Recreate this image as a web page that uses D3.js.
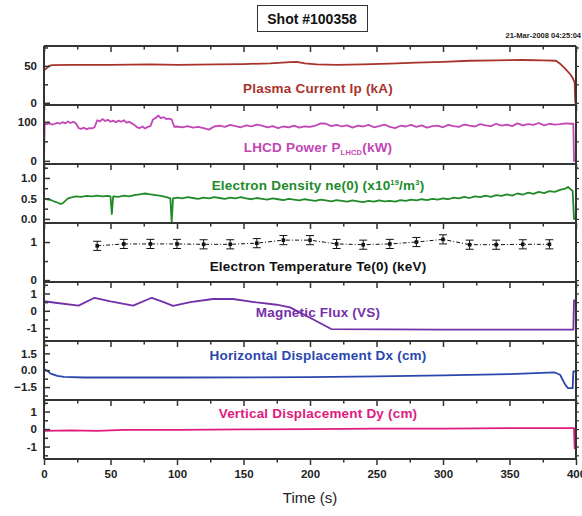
<!DOCTYPE html>
<html>
<head>
<meta charset="utf-8">
<script src="https://cdn.jsdelivr.net/npm/d3@7"></script>
<style>
	html, body { margin: 0; padding: 0; background: #fff; }
	svg { display: block; font-family: "Liberation Sans", Arial, sans-serif; }
</style>
</head>
<body>
<svg id="chart" width="582" height="516"></svg>
<script>
// ── Data ──────────────────────────────────────────────────────────────────────
const xTicks = [0, 50, 100, 150, 200, 250, 300, 350, 400];

const plasmaCurrent = [
	[0, 44], [2, 47], [4, 50], [6, 51], [20, 51.5], [50, 51.5], [80, 52], [100, 51.5],
	[130, 52], [150, 52.5], [170, 53.5], [185, 55], [190, 55.5], [196, 53.5], [205, 52],
	[220, 51.5], [240, 52], [260, 53], [280, 54.5], [300, 55.5], [320, 57], [340, 57.5],
	[360, 58], [375, 57.5], [385, 57], [388, 53], [392, 46], [396, 38], [398, 32],
	[399, 27], [399.5, 0], [400, 0]
];

const lhcdPower = [
	[0, 0], [0.5, 95], [2, 94], [4, 96], [6, 93], [8, 95], [10, 97], [12, 95], [14, 99],
	[16, 96], [18, 101], [20, 97], [22, 100], [24, 96], [26, 84], [28, 82], [30, 85],
	[32, 81], [34, 84], [36, 83], [38, 86], [40, 104], [42, 101], [44, 107], [46, 102],
	[48, 105], [50, 100], [52, 103], [54, 99], [56, 103], [58, 100], [60, 104], [62, 98],
	[64, 100], [66, 96], [68, 92], [70, 86], [72, 84], [74, 88], [76, 83], [78, 87],
	[80, 89], [82, 106], [84, 110], [86, 116], [88, 109], [90, 112], [92, 107], [94, 108],
	[96, 106], [98, 87], [100, 88], [104, 86], [108, 89], [112, 85], [116, 87], [120, 84],
	[124, 80], [128, 88], [132, 90], [136, 87], [140, 92], [144, 89], [148, 86], [152, 91],
	[156, 88], [160, 93], [164, 90], [168, 86], [172, 89], [176, 84], [180, 88], [184, 86],
	[188, 90], [192, 85], [196, 88], [200, 87], [204, 90], [208, 96], [212, 95], [216, 89],
	[220, 92], [224, 88], [228, 91], [232, 85], [236, 90], [240, 88], [244, 92], [248, 86],
	[252, 89], [256, 93], [260, 87], [264, 84], [268, 90], [272, 88], [276, 92], [280, 87],
	[284, 91], [288, 85], [292, 89], [296, 90], [300, 86], [304, 92], [308, 89], [312, 87],
	[316, 93], [320, 90], [324, 88], [328, 94], [332, 91], [336, 89], [340, 95], [344, 90],
	[348, 93], [352, 89], [356, 96], [360, 91], [364, 94], [368, 92], [372, 97], [376, 91],
	[380, 95], [384, 93], [388, 94], [392, 96], [396, 95], [398, 95], [398.5, 0], [400, 0]
];

const electronDensity = [
	[0, 0.50], [2, 0.48], [4, 0.47], [6, 0.45], [8, 0.42], [10, 0.40], [12, 0.37], [14, 0.38],
	[16, 0.44], [18, 0.50], [20, 0.52], [24, 0.55], [28, 0.54], [32, 0.56], [36, 0.55],
	[40, 0.57], [44, 0.55], [48, 0.56], [50, 0.55], [51, 0.12], [52, 0.55], [56, 0.54],
	[60, 0.57], [64, 0.55], [68, 0.58], [72, 0.60], [76, 0.62], [80, 0.60], [84, 0.58],
	[88, 0.56], [92, 0.53], [95, 0.50], [96, -0.08], [97, 0.50], [100, 0.52], [104, 0.50],
	[108, 0.53], [112, 0.51], [116, 0.49], [120, 0.52], [124, 0.50], [128, 0.53], [132, 0.51],
	[136, 0.49], [140, 0.52], [144, 0.50], [148, 0.53], [152, 0.50], [156, 0.48], [160, 0.51],
	[164, 0.49], [168, 0.47], [172, 0.50], [176, 0.48], [180, 0.46], [184, 0.49], [188, 0.47],
	[192, 0.45], [196, 0.48], [200, 0.46], [204, 0.44], [208, 0.47], [212, 0.45], [216, 0.43],
	[220, 0.46], [224, 0.44], [228, 0.42], [232, 0.45], [236, 0.43], [240, 0.41], [244, 0.44],
	[248, 0.42], [252, 0.45], [256, 0.43], [260, 0.44], [264, 0.42], [268, 0.46], [272, 0.44],
	[276, 0.47], [280, 0.45], [284, 0.48], [288, 0.46], [292, 0.49], [296, 0.47], [300, 0.50],
	[304, 0.48], [308, 0.52], [312, 0.50], [316, 0.54], [320, 0.51], [324, 0.55], [328, 0.53],
	[332, 0.57], [336, 0.54], [340, 0.58], [344, 0.56], [348, 0.60], [352, 0.57], [356, 0.62],
	[360, 0.59], [364, 0.64], [368, 0.61], [372, 0.66], [376, 0.63], [380, 0.68], [384, 0.66],
	[388, 0.71], [392, 0.74], [394, 0.78], [396, 0.72], [397.5, 0.68], [398.5, 0], [400, 0]
];

const teTimes  = [40, 60, 80, 100, 120, 140, 160, 180, 200, 220, 240, 260, 280, 300, 320, 340, 360, 380];
const teValues = [0.90, 0.95, 0.95, 0.95, 0.94, 0.94, 0.97, 1.05, 1.05, 0.95, 0.93, 0.95, 1.00, 1.07, 0.93, 0.93, 0.94, 0.94];
const teErrors = [0.12, 0.12, 0.12, 0.12, 0.12, 0.12, 0.12, 0.12, 0.12, 0.12, 0.12, 0.12, 0.12, 0.12, 0.12, 0.12, 0.12, 0.12];

const magneticFlux = [
	[0, 0.55], [10, 0.45], [26, 0.3], [38, 0.75], [50, 0.55], [67, 0.3], [81, 0.75], [90, 0.5],
	[97, 0.28], [110, 0.5], [127, 0.68], [142, 0.68], [160, 0.48], [175, 0.35], [185, 0.2],
	[200, -0.4], [216, -1.05], [300, -1.08], [398, -1.08], [398.5, 0.6], [400, 0.6]
];

const horizDisp = [
	[0, 0.1], [2, 0.0], [5, -0.3], [10, -0.5], [15, -0.6], [30, -0.65], [100, -0.65],
	[200, -0.62], [250, -0.55], [300, -0.45], [350, -0.35], [384, -0.2], [388, -0.4],
	[392, -1.3], [394, -1.6], [397.5, -1.6], [398, -0.1], [400, -0.1]
];

const vertDisp = [
	[0, -0.1], [20, -0.08], [40, -0.1], [60, -0.05], [100, -0.05], [150, -0.02], [200, 0],
	[250, 0.02], [300, 0.03], [350, 0.05], [398.5, 0.05], [399, -1.1], [400, -1.1]
];

// ── Layout ────────────────────────────────────────────────────────────────────
const X0 = 44, X1 = 576, TOP = 46, PANEL_H = 59;
const FRAME = '#333';
const FONT = '"Liberation Sans", Arial, sans-serif';

const panels = [
	{ data: plasmaCurrent, domain: [-3, 77], labels: [0, 50], minor: [25, 75], fmt: d => d,
	  color: '#a8342b', labelY: 93, label: [['Plasma Current Ip (kA)']] },
	{ data: lhcdPower, domain: [-8, 143], labels: [0, 100], minor: [50], fmt: d => d,
	  color: '#c246b6', labelY: 152, label: [['LHCD Power P'], ['LHCD', 'sub'], ['(kW)']] },
	{ data: electronDensity, domain: [-0.1, 1.34], labels: [0, 0.5, 1.0], minor: [0.25, 0.75, 1.25], fmt: d3.format('.1f'),
	  color: '#218b2a', labelY: 190, label: [['Electron Density ne(0) (x10'], ['19', 'sup'], ['/m'], ['3', 'sup'], [')']] },
	{ te: true, domain: [-0.05, 1.5], labels: [0, 1], minor: [0.5], fmt: d => d,
	  color: '#111', labelY: 271, label: [['Electron Temperature Te(0) (keV)']] },
	{ data: magneticFlux, domain: [-1.74, 1.66], labels: [-1, 0, 1], minor: [-1.5, -0.5, 0.5, 1.5], fmt: d => d,
	  color: '#7430a8', labelY: 317, label: [['Magnetic Flux (VS)']] },
	{ data: horizDisp, domain: [-2.65, 2.6], labels: [-1.5, 0, 1.5], minor: [-2.25, -0.75, 0.75, 2.25], fmt: d3.format('.1f'),
	  color: '#2b47ae', labelY: 360, label: [['Horizontal Displacement Dx (cm)']] },
	{ data: vertDisp, domain: [-1.71, 1.66], labels: [-1, 0, 1], minor: [-1.5, -0.5, 0.5, 1.5], fmt: d => d,
	  color: '#e01b7d', labelY: 418, label: [['Vertical Displacement Dy (cm)']] }
];

const svg = d3.select('#chart');
const x = d3.scaleLinear().domain([0, 400]).range([X0, X1]);

// ── Title ─────────────────────────────────────────────────────────────────────
svg.append('rect')
	.attr('x', 257.5).attr('y', 5.5).attr('width', 110).attr('height', 26)
	.attr('fill', '#fff').attr('stroke', FRAME).attr('stroke-width', 1);
svg.append('text')
	.attr('x', 312).attr('y', 23.5).attr('text-anchor', 'middle')
	.attr('font-size', 14).attr('font-weight', 'bold').attr('fill', '#111')
	.text('Shot #100358');
svg.append('text')
	.attr('x', 581).attr('y', 38).attr('text-anchor', 'end')
	.attr('font-size', 7.5).attr('font-weight', 'bold').attr('fill', '#222')
	.text('21-Mar-2008 04:25:04');

// ── Panels ────────────────────────────────────────────────────────────────────
panels.forEach((p, i) => {
	const top = TOP + i * PANEL_H, bottom = top + PANEL_H;
	const y = d3.scaleLinear().domain(p.domain).range([bottom, top]);
	const g = svg.append('g');

	const clipId = 'clip' + i;
	svg.append('clipPath').attr('id', clipId)
		.append('rect').attr('x', X0).attr('y', top).attr('width', X1 - X0).attr('height', PANEL_H);

	const plot = g.append('g').attr('clip-path', `url(#${clipId})`);

	if (p.te) {
		const pts = teTimes.map((t, k) => ({ t, v: teValues[k], e: teErrors[k] }));
		plot.append('path')
			.datum(pts)
			.attr('fill', 'none').attr('stroke', '#111').attr('stroke-width', 1)
			.attr('stroke-dasharray', '4,2,1,2')
			.attr('d', d3.line().x(d => x(d.t)).y(d => y(d.v)));
		const bars = plot.selectAll('.err').data(pts).join('g').attr('class', 'err');
		bars.append('line')
			.attr('x1', d => x(d.t)).attr('x2', d => x(d.t))
			.attr('y1', d => y(d.v - d.e)).attr('y2', d => y(d.v + d.e))
			.attr('stroke', '#111').attr('stroke-width', 1);
		[-1, 1].forEach(s => {
			bars.append('line')
				.attr('x1', d => x(d.t) - 4).attr('x2', d => x(d.t) + 4)
				.attr('y1', d => y(d.v + s * d.e)).attr('y2', d => y(d.v + s * d.e))
				.attr('stroke', '#111').attr('stroke-width', 1);
		});
		bars.append('rect')
			.attr('x', d => x(d.t) - 1.8).attr('y', d => y(d.v) - 1.8)
			.attr('width', 3.6).attr('height', 3.6).attr('fill', '#111');
	} else {
		plot.append('path')
			.datum(p.data)
			.attr('fill', 'none').attr('stroke', p.color).attr('stroke-width', 1.8)
			.attr('stroke-linejoin', 'round')
			.attr('d', d3.line().x(d => x(d[0])).y(d => y(d[1])));
	}

	// left axis: labelled and minor ticks pointing into the panel
	const axisL = d3.axisLeft(y).tickValues(p.labels).tickSize(-6).tickPadding(7).tickFormat(p.fmt);
	const ga = g.append('g').attr('transform', `translate(${X0},0)`).call(axisL);
	ga.select('.domain').remove();
	ga.selectAll('line').attr('stroke', FRAME).attr('stroke-width', 1.5);
	ga.selectAll('text').attr('font-size', 11.5).attr('font-weight', 'bold').attr('fill', '#222')
		.attr('font-family', FONT);
	const gm = g.append('g').attr('transform', `translate(${X0},0)`)
		.call(d3.axisLeft(y).tickValues(p.minor).tickSize(-4).tickFormat(''));
	gm.select('.domain').remove();
	gm.selectAll('line').attr('stroke', FRAME).attr('stroke-width', 1.5);

	// right border ticks
	const gr = g.append('g').attr('transform', `translate(${X1},0)`)
		.call(d3.axisRight(y).tickValues(p.labels.concat(p.minor)).tickSize(3).tickFormat(''));
	gr.select('.domain').remove();
	gr.selectAll('line').attr('stroke', FRAME).attr('stroke-width', 1.2);

	// panel label, sub/superscripts shifted and then returned to the baseline
	const lab = g.append('text')
		.attr('x', 318).attr('y', p.labelY).attr('text-anchor', 'middle')
		.attr('font-size', 13.5).attr('font-weight', 'bold').attr('fill', p.color)
		.attr('letter-spacing', 0.2);
	let shift = 0;
	p.label.forEach(([s, kind]) => {
		const ts = lab.append('tspan').text(s);
		const dy = kind === 'sub' ? 3 : kind === 'sup' ? -5 : -shift;
		if (kind) ts.attr('font-size', 7.5);
		ts.attr('dy', dy);
		shift = kind === 'sub' ? 3 : kind === 'sup' ? -5 : 0;
	});
});

// ── Time ticks on every horizontal divider, pointing down ────────────────────
const xMinor = d3.range(25, 400, 50);
for (let i = 0; i <= panels.length; i++) {
	const yy = TOP + i * PANEL_H;
	const isLast = i === panels.length;
	const gx = svg.append('g').attr('transform', `translate(0,${yy})`)
		.call(d3.axisBottom(x).tickValues(xTicks).tickSize(6).tickPadding(5)
			.tickFormat(isLast ? d => d : ''));
	gx.select('.domain').remove();
	gx.selectAll('line').attr('stroke', FRAME).attr('stroke-width', 1.5);
	gx.selectAll('text').attr('font-size', 11.5).attr('font-weight', 'bold').attr('fill', '#222')
		.attr('font-family', FONT);
	const gxm = svg.append('g').attr('transform', `translate(0,${yy})`)
		.call(d3.axisBottom(x).tickValues(xMinor).tickSize(3.5).tickFormat(''));
	gxm.select('.domain').remove();
	gxm.selectAll('line').attr('stroke', FRAME).attr('stroke-width', 1.5);
}

// ── Frame and dividers ────────────────────────────────────────────────────────
for (let i = 0; i <= panels.length; i++) {
	const yy = TOP + i * PANEL_H;
	svg.append('line').attr('x1', X0).attr('x2', X1).attr('y1', yy).attr('y2', yy)
		.attr('stroke', FRAME).attr('stroke-width', 2);
}
svg.append('line').attr('x1', X0).attr('x2', X0).attr('y1', TOP).attr('y2', TOP + 7 * PANEL_H)
	.attr('stroke', FRAME).attr('stroke-width', 2);
svg.append('line').attr('x1', X1).attr('x2', X1).attr('y1', TOP).attr('y2', TOP + 7 * PANEL_H)
	.attr('stroke', FRAME).attr('stroke-width', 2);

svg.append('text')
	.attr('x', 310).attr('y', 503).attr('text-anchor', 'middle')
	.attr('font-size', 15).attr('fill', '#222')
	.text('Time (s)');
</script>
</body>
</html>
